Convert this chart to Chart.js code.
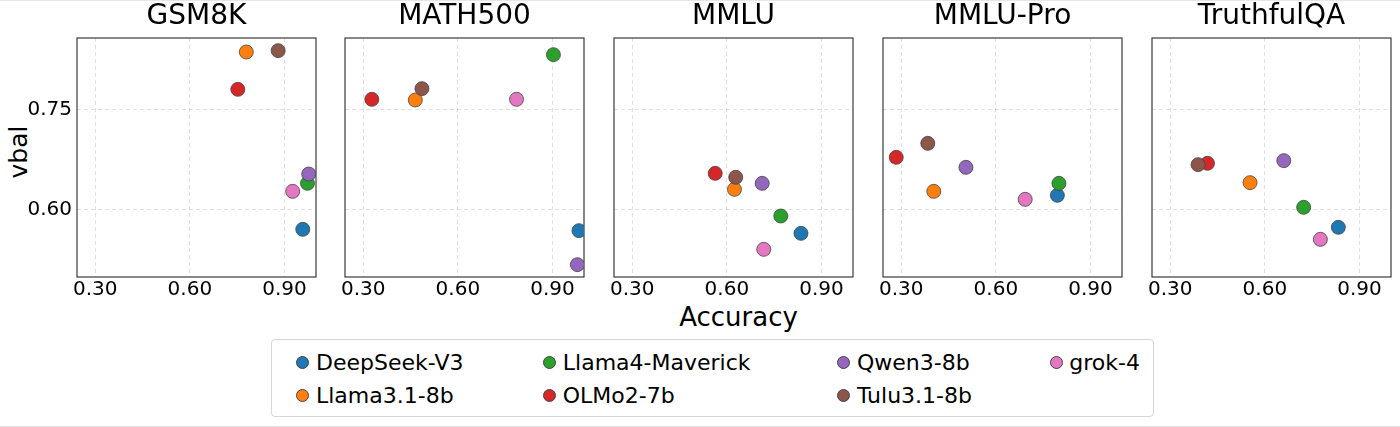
<!DOCTYPE html>
<html>
<head>
<meta charset="utf-8">
<script src="https://cdn.jsdelivr.net/npm/chart.js@4.4.1/dist/chart.umd.min.js"></script>
<style>
  body { margin: 0; background: #fff; }
  #wrap { position: relative; width: 1400px; height: 427px; overflow: hidden; background: #fff;
          font-family: "DejaVu Sans", sans-serif; color: #000;
          border-top: 1px solid #e6e6e6; border-bottom: 1px solid #e6e6e6; box-sizing: border-box; }
  .panel { position: absolute; top: -1px; }
  .lbl { position: absolute; white-space: nowrap; }
  #legend { position: absolute; left: 271px; top: 338px; width: 883px; height: 78px;
            border: 1px solid #d6d6d6; border-radius: 4px; box-sizing: border-box; }
  .mk { position: absolute; width: 13px; height: 13px; border-radius: 50%;
        border: 1px solid #444; box-sizing: border-box; }
  .lt { position: absolute; font-size: 22px; line-height: 26px; white-space: nowrap; }
</style>
</head>
<body>
<div id="wrap">
  <div class="lbl" id="ylab" style="left:17.5px; top:151px; font-size:25px; line-height:29px; transform:translate(-50%,-50%) rotate(-90deg);">vbal</div>
  <div class="lbl" id="xlab" style="left:738.5px; top:301px; font-size:26px; line-height:30px; transform:translateX(-50%);">Accuracy</div>
  <div id="legend"></div>
</div>
<script>
const models = ["DeepSeek-V3", "Llama3.1-8b", "Llama4-Maverick", "OLMo2-7b", "Qwen3-8b", "Tulu3.1-8b", "grok-4"];
const colors = ["#1f77b4", "#ff7f0e", "#2ca02c", "#d62728", "#9467bd", "#8c564b", "#e377c2"];
const benchmarks = ["GSM8K", "MATH500", "MMLU", "MMLU-Pro", "TruthfulQA"];
const xTicks = [0.30, 0.60, 0.90];
const yTicks = [0.60, 0.75];

// accuracy / vbal per model (same order as models)
const gsm8kAcc = [0.958, 0.779, 0.973, 0.752, 0.977, 0.880, 0.926];
const gsm8kVbal = [0.570, 0.836, 0.639, 0.780, 0.653, 0.838, 0.627];
const mathAcc = [0.984, 0.465, 0.903, 0.327, 0.979, 0.486, 0.786];
const mathVbal = [0.568, 0.764, 0.832, 0.765, 0.517, 0.781, 0.765];
const mmluAcc = [0.835, 0.624, 0.771, 0.563, 0.712, 0.628, 0.717];
const mmluVbal = [0.564, 0.630, 0.590, 0.654, 0.639, 0.648, 0.540];
const mmluProAcc = [0.795, 0.403, 0.800, 0.284, 0.505, 0.384, 0.693];
const mmluProVbal = [0.621, 0.627, 0.639, 0.678, 0.663, 0.699, 0.615];
const tqaAcc = [0.833, 0.553, 0.723, 0.418, 0.660, 0.388, 0.776];
const tqaVbal = [0.573, 0.640, 0.603, 0.669, 0.673, 0.667, 0.555];

const panelData = [
  [gsm8kAcc, gsm8kVbal],
  [mathAcc, mathVbal],
  [mmluAcc, mmluVbal],
  [mmluProAcc, mmluProVbal],
  [tqaAcc, tqaVbal],
];

const plotLefts = [77, 345, 614, 883, 1152];
const plotW = 239;
const FONT = "DejaVu Sans";

const framePlugin = {
  id: "frame",
  beforeDatasetsDraw(chart) {
    const a = chart.chartArea, c = chart.ctx;
    c.save();
    c.strokeStyle = "#3a3a3a";
    c.lineWidth = 1.2;
    c.strokeRect(a.left, a.top, a.right - a.left, a.bottom - a.top);
    c.restore();
  },
};

const wrap = document.getElementById("wrap");

benchmarks.forEach((name, p) => {
  const first = p === 0;
  const yW = first ? 77 : 20;
  const div = document.createElement("div");
  div.className = "panel";
  div.style.left = (plotLefts[p] - yW) + "px";
  const cv = document.createElement("canvas");
  cv.width = yW + plotW + 10;
  cv.height = 307;
  div.appendChild(cv);
  wrap.appendChild(div);

  const [acc, vbal] = panelData[p];
  const datasets = models.map((m, i) => ({
    label: m,
    data: [{ x: acc[i], y: vbal[i] }],
    backgroundColor: colors[i],
    borderColor: "#444",
    borderWidth: 0.8,
    pointRadius: 7,
    order: -i,
  }));

  new Chart(cv, {
    type: "scatter",
    data: { datasets },
    plugins: [framePlugin],
    options: {
      responsive: false,
      animation: false,
      devicePixelRatio: 1,
      layout: { autoPadding: false, padding: { top: 0, right: 10, bottom: 0, left: 0 } },
      plugins: {
        legend: { display: false },
        tooltip: { enabled: false },
        title: {
          display: true,
          fullSize: false,
          text: name,
          color: "#000",
          font: { family: FONT, size: 28, weight: "normal" },
          padding: { top: 0, bottom: 4.4 },
        },
      },
      scales: {
        x: {
          type: "linear",
          min: 0.242,
          max: 1.0,
          afterBuildTicks: (s) => { s.ticks = xTicks.map((v) => ({ value: v })); },
          afterFit: (s) => { s.height = 30; s.paddingLeft = 0; s.paddingRight = 0; },
          grid: { color: "rgba(0,0,0,0.12)", drawTicks: false, lineWidth: 1 },
          border: { display: false, dash: [4, 3] },
          ticks: {
            color: "#000",
            padding: 1,
            font: { family: FONT, size: 20 },
            callback: (v) => Number(v).toFixed(2),
          },
        },
        y: {
          type: "linear",
          min: 0.4985,
          max: 0.857,
          afterBuildTicks: (s) => { s.ticks = yTicks.map((v) => ({ value: v })); },
          afterFit: (s) => { s.width = yW; s.paddingTop = 0; s.paddingBottom = 0; },
          grid: { color: "rgba(0,0,0,0.12)", drawTicks: false, lineWidth: 1 },
          border: { display: false, dash: [4, 3] },
          ticks: {
            display: first,
            color: "#000",
            padding: 5,
            font: { family: FONT, size: 20 },
            callback: (v) => Number(v).toFixed(2),
          },
        },
      },
    },
  });
});

// legend (column-major, 2 rows like the reference)
const legend = document.getElementById("legend");
const colX = [301.7, 548.5, 842.7, 1055];
const rowY = [361.5, 394.5];
models.forEach((m, i) => {
  const col = Math.floor(i / 2), row = i % 2;
  const cx = colX[col] - 271, cy = rowY[row] - 339;
  const mk = document.createElement("div");
  mk.className = "mk";
  mk.style.left = (cx - 6.5) + "px";
  mk.style.top = (cy - 6.5) + "px";
  mk.style.background = colors[i];
  legend.appendChild(mk);
  const t = document.createElement("div");
  t.className = "lt";
  t.textContent = m;
  t.style.left = (cx + 13.3) + "px";
  t.style.top = (cy - 13) + "px";
  legend.appendChild(t);
});
</script>
</body>
</html>
